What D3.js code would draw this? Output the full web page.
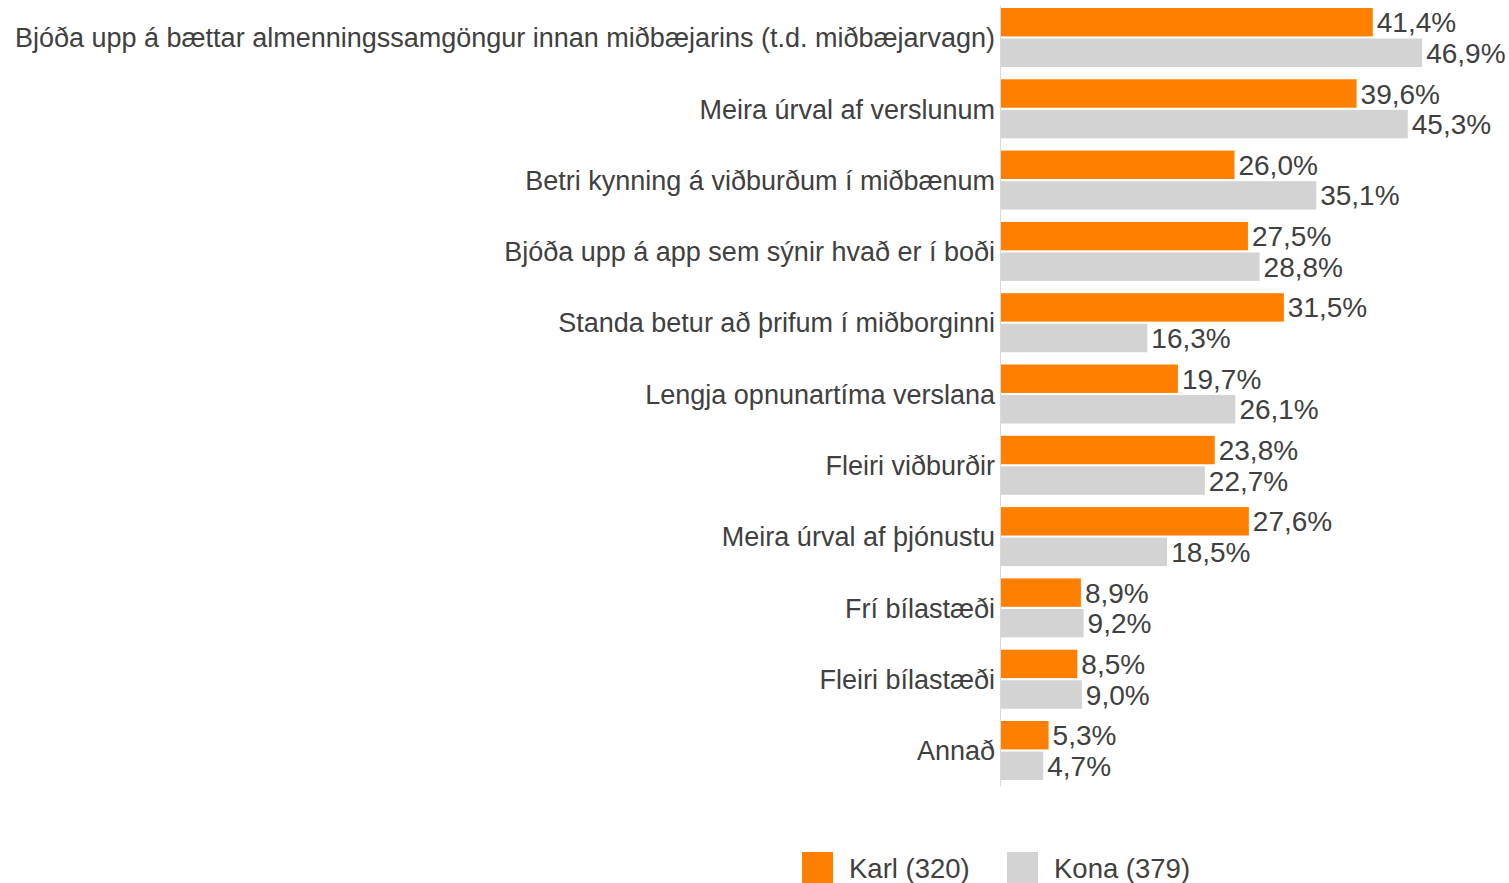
<!DOCTYPE html>
<html>
<head>
<meta charset="utf-8">
<script src="https://cdn.jsdelivr.net/npm/d3@7"></script>
<style>
  body { margin: 0; background: #fff; }
  text { font-family: "Liberation Sans", Arial, sans-serif; fill: #404040; }
</style>
</head>
<body>
<script>
const w = 1509;
const h = 883;

// data
const categories = [
  "Bjóða upp á bættar almenningssamgöngur innan miðbæjarins (t.d. miðbæjarvagn)",
  "Meira úrval af verslunum",
  "Betri kynning á viðburðum í miðbænum",
  "Bjóða upp á app sem sýnir hvað er í boði",
  "Standa betur að þrifum í miðborginni",
  "Lengja opnunartíma verslana",
  "Fleiri viðburðir",
  "Meira úrval af þjónustu",
  "Frí bílastæði",
  "Fleiri bílastæði",
  "Annað"
];
const karl = [41.4, 39.6, 26.0, 27.5, 31.5, 19.7, 23.8, 27.6, 8.9, 8.5, 5.3];
const kona = [46.9, 45.3, 35.1, 28.8, 16.3, 26.1, 22.7, 18.5, 9.2, 9.0, 4.7];
const seriesNames = ["Karl (320)", "Kona (379)"];
const colors = ["#FF8000", "#D3D3D3"];

const rows = categories.map((c, i) => ({cat: c, vals: [karl[i], kona[i]]}));

const svg = d3.select("body").append("svg")
  .attr("width", w)
  .attr("height", h);

const x = d3.scaleLinear()
  .domain([0, 50])
  .range([1001, 1450]);

const y = d3.scaleBand()
  .domain(categories)
  .range([1.85, 786.15])
  .paddingInner(0.172)
  .paddingOuter(0.086);

const ySub = d3.scaleBand()
  .domain([0, 1])
  .range([0, y.bandwidth()])
  .paddingInner(0.07);

const fmt = v => d3.format(".1f")(v).replace(".", ",") + "%";

// axis line
svg.append("line")
  .attr("x1", x(0) - 0.5).attr("x2", x(0) - 0.5)
  .attr("y1", y.range()[0] + 4).attr("y2", y.range()[1])
  .attr("stroke", "#d9d9d9")
  .attr("stroke-width", 1);

const groups = svg.selectAll("g.row")
  .data(rows)
  .enter()
  .append("g")
  .attr("class", "row")
  .attr("transform", d => `translate(0,${y(d.cat)})`);

groups.selectAll("rect")
  .data(d => d.vals)
  .enter()
  .append("rect")
  .attr("x", x(0))
  .attr("y", (d, i) => ySub(i))
  .attr("width", d => x(d) - x(0))
  .attr("height", ySub.bandwidth())
  .attr("fill", (d, i) => colors[i]);

groups.selectAll("text.val")
  .data(d => d.vals)
  .enter()
  .append("text")
  .attr("class", "val")
  .attr("x", d => x(d) + 4)
  .attr("y", (d, i) => ySub(i) + ySub.bandwidth() / 2)
  .attr("dy", "0.36em")
  .style("font-size", "28px")
  .text(fmt);

groups.append("text")
  .attr("x", x(0) - 6)
  .attr("y", y.bandwidth() / 2)
  .attr("dy", "0.36em")
  .attr("text-anchor", "end")
  .style("font-size", "27px")
  .text(d => d.cat);

// legend
const legend = svg.append("g").attr("transform", "translate(802,852)");
const leg = legend.selectAll("g")
  .data(seriesNames)
  .enter()
  .append("g")
  .attr("transform", (d, i) => `translate(${i * 205},0)`);

leg.append("rect")
  .attr("width", 31)
  .attr("height", 31)
  .attr("fill", (d, i) => colors[i]);

leg.append("text")
  .attr("x", 47)
  .attr("y", 16)
  .attr("dy", "0.36em")
  .style("font-size", "27.5px")
  .text(d => d);
</script>
</body>
</html>
